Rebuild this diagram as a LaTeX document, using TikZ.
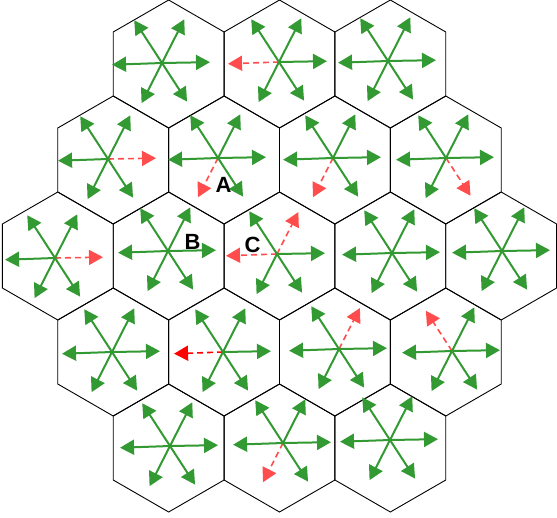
\documentclass[tikz,border=0pt]{standalone}
\usepackage{fontspec}
\setmainfont{Liberation Sans}
\usetikzlibrary{arrows.meta,shapes.geometric}
\definecolor{sg}{RGB}{51,153,51}
\definecolor{sr}{RGB}{255,77,77}
\newcommand\spokes[3]{\foreach \a/\l in {#3}{\path (#1) ++(\a:\l) coordinate (#1-\a); \draw[#2] (#1) -- (#1-\a);}}
\begin{document}
\begin{tikzpicture}[x=1pt,y=-1pt,
  hexcell/.style={draw=black,line width=0.9pt,regular polygon,regular polygon sides=6,shape border rotate=30,minimum size=128pt,inner sep=0pt,outer sep=0pt},
  garrow/.style={draw=sg,line width=2pt,-{Triangle[length=14pt,width=15pt]}},
  rarrow/.style={draw=sr,line width=1.6pt,dash pattern=on 6pt off 4pt,-{Triangle[length=14pt,width=15pt]}},
  rarrowdark/.style={rarrow,draw=red},
  lbl/.style={font=\fontsize{22}{25}\selectfont\bfseries,inner sep=0pt}]
\useasboundingbox (0,0) rectangle (557,517);
% hexagons
\node[hexcell] (h11) at (168.65,64) {};
\node[hexcell] (h12) at (279.5,64) {};
\node[hexcell] (h13) at (390.35,64) {};
\node[hexcell] (h21) at (113.2,160) {};
\node[hexcell] (h22) at (224.1,160) {};
\node[hexcell] (h23) at (334.9,160) {};
\node[hexcell] (h24) at (445.8,160) {};
\node[hexcell] (h31) at (57.8,256) {};
\node[hexcell] (h32) at (168.65,256) {};
\node[hexcell] (h33) at (279.5,256) {};
\node[hexcell] (h34) at (390.35,256) {};
\node[hexcell] (h35) at (501.2,256) {};
\node[hexcell] (h41) at (113.2,352) {};
\node[hexcell] (h42) at (224.1,352) {};
\node[hexcell] (h43) at (334.9,352) {};
\node[hexcell] (h44) at (445.8,352) {};
\node[hexcell] (h51) at (168.65,448) {};
\node[hexcell] (h52) at (279.5,448) {};
\node[hexcell] (h53) at (390.35,448) {};
% star centres
\coordinate (s11) at (162,63);
\coordinate (s12) at (279,62);
\coordinate (s13) at (388,61);
\coordinate (s21) at (108,159);
\coordinate (s22) at (218,158);
\coordinate (s23) at (333,158);
\coordinate (s24) at (446,158);
\coordinate (s31) at (55,258);
\coordinate (s32) at (168,251);
\coordinate (s33) at (277,254);
\coordinate (s34) at (392,253);
\coordinate (s35) at (502,251);
\coordinate (s41) at (112,352);
\coordinate (s42) at (223,352);
\coordinate (s43) at (339,349);
\coordinate (s44) at (452,351);
\coordinate (s51) at (170,446);
\coordinate (s52) at (283,443);
\coordinate (s53) at (390,440);
% red dashed arrows
\spokes{s12}{rarrow}{178/51}
\spokes{s21}{rarrow}{-1/48}
\spokes{s22}{rarrow}{117/44}
\spokes{s23}{rarrow}{117/44}
\spokes{s24}{rarrow}{57/45}
\spokes{s31}{rarrow}{-1/48}
\spokes{s33}{rarrow}{178/51,-63/47}
\spokes{s42}{rarrowdark}{178/49}
\spokes{s43}{rarrow}{-63/46}
\spokes{s44}{rarrow}{-123/48}
\spokes{s52}{rarrow}{117/44}
% green arrows
\spokes{s11}{garrow}{-1/48,-63/49,-123/51,178/50,117/45,57/46}
\spokes{s12}{garrow}{-1/48,-63/49,-123/51,117/45,57/46}
\spokes{s13}{garrow}{-1/48,-63/49,-123/51,178/50,117/45,57/46}
\spokes{s21}{garrow}{-63/49,-123/51,178/50,117/45,57/46}
\spokes{s22}{garrow}{-1/48,-63/49,-123/51,178/50,57/46}
\spokes{s23}{garrow}{-1/48,-63/49,-123/51,178/50,57/46}
\spokes{s24}{garrow}{-1/48,-63/49,-123/51,178/50,117/45}
\spokes{s31}{garrow}{-63/49,-123/51,178/50,117/45,57/46}
\spokes{s32}{garrow}{-1/48,-63/49,-123/51,178/50,117/45,57/46}
\spokes{s33}{garrow}{-1/48,-123/51,117/45,57/46}
\spokes{s34}{garrow}{-1/48,-63/49,-123/51,178/50,117/45,57/46}
\spokes{s35}{garrow}{-1/48,-63/49,-123/51,178/50,117/45,57/46}
\spokes{s41}{garrow}{-1/48,-63/49,-123/51,178/50,117/45,57/46}
\spokes{s42}{garrow}{-1/48,-63/49,-123/51,117/45,57/46}
\spokes{s43}{garrow}{-1/48,-123/51,178/50,117/45,57/46}
\spokes{s44}{garrow}{-1/48,-63/49,178/50,117/45,57/46}
\spokes{s51}{garrow}{-1/48,-63/49,-123/51,178/50,117/45,57/46}
\spokes{s52}{garrow}{-1/48,-63/49,-123/51,178/50,57/46}
\spokes{s53}{garrow}{-1/48,-63/49,-123/51,178/50,117/45,57/46}
% labels
\node[lbl] (A) at (223.5,185) {A};
\node[lbl] (B) at (192.5,241.5) {B};
\node[lbl] (C) at (252.5,244.5) {C};
\end{tikzpicture}
\end{document}
